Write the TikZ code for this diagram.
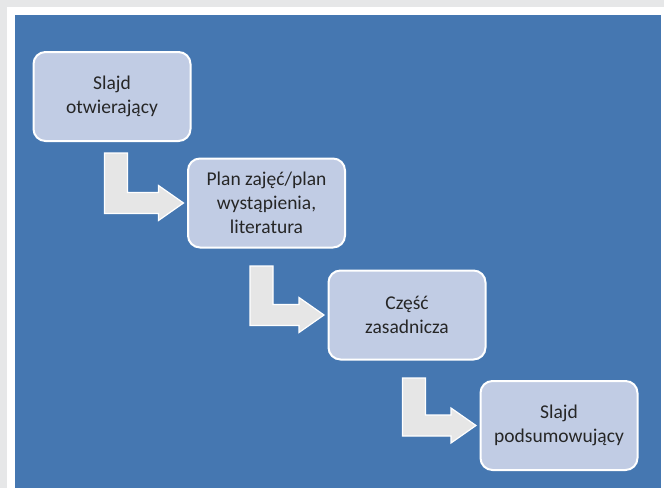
\documentclass[tikz,border=0pt]{standalone}
\usepackage{fontspec}
\setmainfont{Carlito}
\usetikzlibrary{calc}
\definecolor{bluebg}{HTML}{4577B1}
\definecolor{greyframe}{HTML}{E6E7E8}
\definecolor{boxfill}{HTML}{C1CCE4}
\definecolor{arrowfill}{HTML}{E6E6E6}
\definecolor{boxtext}{HTML}{262626}

\begin{document}
\begin{tikzpicture}[x=1pt,y=-1pt,
  step box/.style={draw=white,line width=2pt,fill=boxfill,rounded corners=12pt,
    minimum width=157pt,minimum height=89pt,outer sep=0pt,align=center,
    text=boxtext,font=\fontsize{19.5}{24}\selectfont},
  bend arrow/.style={draw=white,line width=1.2pt,fill=arrowfill}]
  % background and frame
  \fill[greyframe] (0,0) rectangle (664,488);
  \fill[white] (7,7) rectangle (664,488);
  \fill[bluebg] (15,15) rectangle (661,488);
  \useasboundingbox (0,0) rectangle (664,488);

  \node[step box] (b1) at (112,96.5) {Slajd\\otwierający};
  \node[step box] (b2) at (266.5,203) {Plan zajęć/plan\\wystąpienia,\\literatura};
  \node[step box] (b3) at (407,315) {Część\\zasadnicza};
  \node[step box] (b4) at (559,425.5) {Slajd\\podsumowujący};

  \coordinate (a1) at (116,153);
  \coordinate (a2) at (261.5,266);
  \coordinate (a3) at (414,378);

  \foreach \a/\b in {a1/b2,a2/b3,a3/b4}
    \path[bend arrow] let \p1=(\a), \p2=($(\b.west)+(-4.5,0)$) in
      ({\x1-11.5pt},\y1) -- ({\x1+11.5pt},\y1) -- ({\x1+11.5pt},{\y2+10.5pt})
      -- ({\x2-25pt},{\y2+10.5pt}) -- ({\x2-25pt},{\y2+17.5pt}) -- (\x2,\y2)
      -- ({\x2-25pt},{\y2-17.5pt}) -- ({\x2-25pt},{\y2-10.5pt})
      -- ({\x1-11.5pt},{\y2-10.5pt}) -- cycle;
\end{tikzpicture}
\end{document}
